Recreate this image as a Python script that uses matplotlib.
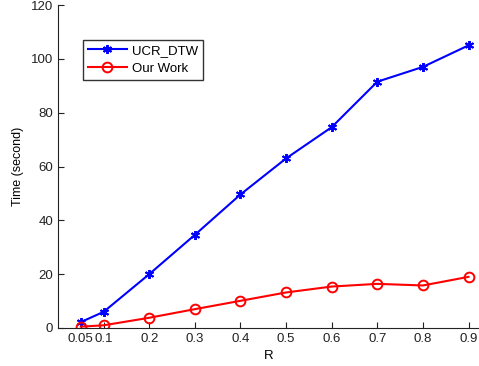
import matplotlib
matplotlib.use("Agg")
import matplotlib.pyplot as plt

R = [0.05, 0.1, 0.2, 0.3, 0.4, 0.5, 0.6, 0.7, 0.8, 0.9]
ucr_dtw = [2.2, 6.0, 20.0, 34.6, 49.6, 63.0, 74.6, 91.5, 97.0, 105.0]
our_work = [0.5, 1.0, 3.8, 7.0, 10.1, 13.2, 15.4, 16.4, 15.8, 19.0]
xtick_labels = ["0.05", "0.1", "0.2", "0.3", "0.4", "0.5", "0.6", "0.7", "0.8", "0.9"]

plt.rcParams['font.family'] = ['Liberation Sans', 'DejaVu Sans']

fig = plt.figure(figsize=(4.79, 3.66), dpi=100)
ax = fig.add_axes([58/479, 38/366, 1 - 58/479, (328-5)/366])

ax.plot(R, ucr_dtw, color='#0000ff', marker=(6, 2, 0), markersize=6.5, markeredgewidth=1.4,
        linewidth=1.5, label='UCR_DTW')
ax.plot(R, our_work, color='#ff0000', marker='o', markersize=7, markerfacecolor='none',
        markeredgewidth=1.4, linewidth=1.5, label='Our Work')

ax.set_xlim(0, 0.923)
ax.set_ylim(0, 120)
ax.set_xticks(R)
ax.set_xticklabels(xtick_labels)
ax.set_yticks([0, 20, 40, 60, 80, 100, 120])
ax.tick_params(direction='in', labelsize=9.5, length=4, width=0.8, colors='#222222')
for s in ['top', 'right']:
    ax.spines[s].set_visible(False)
for s in ['left', 'bottom']:
    ax.spines[s].set_linewidth(0.8)
    ax.spines[s].set_color('#222222')

ax.set_xlabel('R', fontsize=9.5, labelpad=4)
ax.set_ylabel('Time (second)', fontsize=9, labelpad=5)

leg = ax.legend(loc='upper left', bbox_to_anchor=((83-58)/421, (366-38-40)/323), fontsize=9.5,
                frameon=True, fancybox=False, edgecolor='black', borderpad=0.35,
                handlelength=3.0, handletextpad=0.4, labelspacing=0.45, borderaxespad=0)
leg.get_frame().set_linewidth(1.0)

fig.savefig('out.png', dpi=100)
